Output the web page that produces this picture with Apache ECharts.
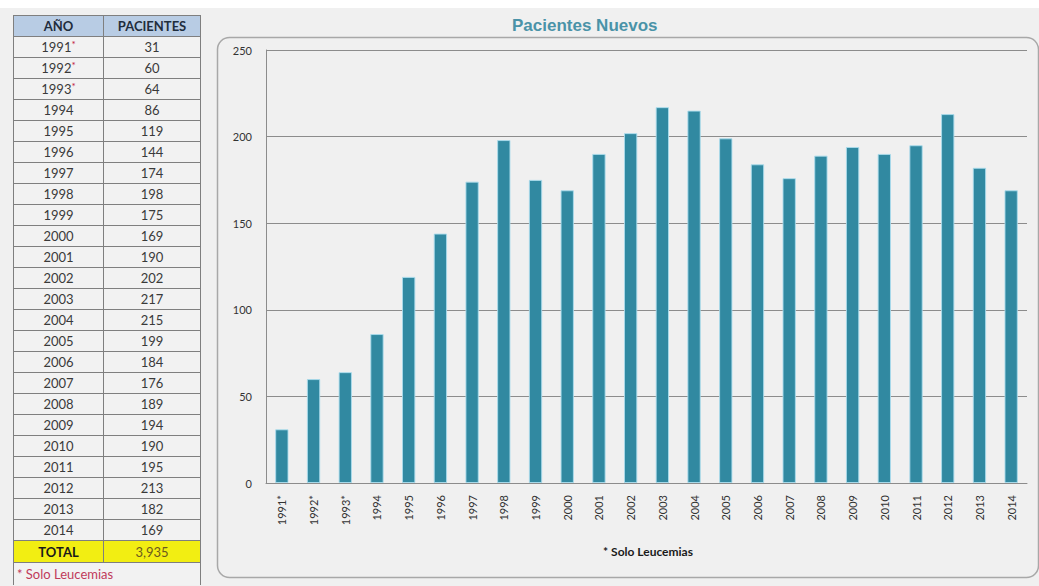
<!DOCTYPE html>
<html>
<head>
<meta charset="utf-8">
<script src="https://cdn.jsdelivr.net/npm/echarts@6/dist/echarts.min.js"></script>
<style>
  html, body { margin:0; padding:0; width:1039px; height:586px; overflow:hidden; background:#f0f0f0; }
  #topstrip { position:absolute; left:0; top:0; width:1039px; height:8px; background:#ffffff; z-index:2; }
  #chart { position:absolute; left:0; top:0; width:1039px; height:586px; }
  #tbl { position:absolute; left:13px; top:15px; border-collapse:collapse; font-family:Lato, "Open Sans", sans-serif; z-index:3; }
  #tbl td, #tbl th { border:1px solid #7f7f7f; padding:0; text-align:center; font-size:13px; color:#3a3a3a; height:20px; line-height:20px; background:#f2f2f2; }
  #tbl th { background:#b8cce4; color:#1f2d3d; font-weight:bold; font-size:13px; height:20px; }
  #tbl .c1 { width:89px; }
  #tbl .c2 { width:96px; }
  #tbl .ast { color:#c0143c; font-size:10px; vertical-align:top; line-height:14px; }
  #tbl tr.total td { background:#f2ee12; height:21px; }
  #tbl tr.total td.lab { font-weight:bold; color:#1a1a1a; }
  #tbl tr.total td.val { color:#6b5a1e; }
  #tbl tr.note td { text-align:left; color:#c03a5a; height:22px; padding-left:3px; border-bottom:none; }
</style>
</head>
<body>
<div id="topstrip"></div>
<div id="chart"></div>
<table id="tbl"></table>
<script>
// ---- data ----
const years = ['1991*','1992*','1993*','1994','1995','1996','1997','1998','1999','2000','2001','2002','2003','2004','2005','2006','2007','2008','2009','2010','2011','2012','2013','2014'];
const patients = [31,60,64,86,119,144,174,198,175,169,190,202,217,215,199,184,176,189,194,190,195,213,182,169];
const totalLabel = 'TOTAL';
const totalValue = '3,935';
const yTicks = { min:0, max:250, interval:50 };
const chartTitle = 'Pacientes Nuevos';
const footNote = '* Solo Leucemias';
const headers = ['AÑO','PACIENTES'];

// ---- table ----
(function(){
  const t = document.getElementById('tbl');
  let h = '<tr><th class="c1">'+headers[0]+'</th><th class="c2">'+headers[1]+'</th></tr>';
  years.forEach((y,i)=>{
    const lab = y.endsWith('*') ? y.slice(0,-1)+'<span class="ast">*</span>' : y;
    h += '<tr><td class="c1">'+lab+'</td><td class="c2">'+patients[i]+'</td></tr>';
  });
  h += '<tr class="total"><td class="lab">'+totalLabel+'</td><td class="val">'+totalValue+'</td></tr>';
  h += '<tr class="note"><td colspan="2">'+footNote+'</td></tr>';
  t.innerHTML = h;
})();

// ---- chart ----
const chart = echarts.init(document.getElementById('chart'), null, {renderer:'svg'});
chart.setOption({
  backgroundColor:'#f0f0f0',
  animation:false,
  title:{
    text: chartTitle, left: 507, top: 12,
    textStyle:{ fontFamily:'"Liberation Sans", Arial, sans-serif', fontSize:17, fontWeight:'bold', color:'#4a93a8' }
  },
  graphic:[
    { type:'rect', left:215, top:35, shape:{ width:821, height:540, r:12 }, style:{ fill:'none', stroke:'#a8a8a8', lineWidth:1.5 }, z:-1 },
    { type:'text', x:648, y:551, style:{ text: footNote, align:'center', verticalAlign:'middle', fill:'#1a1a1a', font:'bold 12px Lato, "Open Sans", sans-serif' } }
  ],
  grid:{ left:266, right:12, top:50, bottom:103, containLabel:false },
  xAxis:{
    type:'category', data: years,
    axisLine:{ show:true, lineStyle:{ color:'#8c8c8c', width:1 } },
    axisTick:{ show:false },
    axisLabel:{ rotate:90, fontSize:11, color:'#333333', margin:12, fontFamily:'Lato, "Open Sans", sans-serif' }
  },
  yAxis:{
    type:'value', min:yTicks.min, max:yTicks.max, interval:yTicks.interval,
    axisLine:{ show:true, lineStyle:{ color:'#8c8c8c', width:1 } },
    axisTick:{ show:false },
    splitLine:{ show:true, lineStyle:{ color:'#8c8c8c', width:1 } },
    axisLabel:{ fontSize:11, color:'#333333', margin:14, fontFamily:'Lato, "Open Sans", sans-serif' }
  },
  series:[{
    type:'bar', data: patients, barWidth:'42%',
    itemStyle:{ color:'#3189a1', borderColor:'rgba(170,220,236,0.9)', borderWidth:1 }
  }]
});
</script>
</body>
</html>
